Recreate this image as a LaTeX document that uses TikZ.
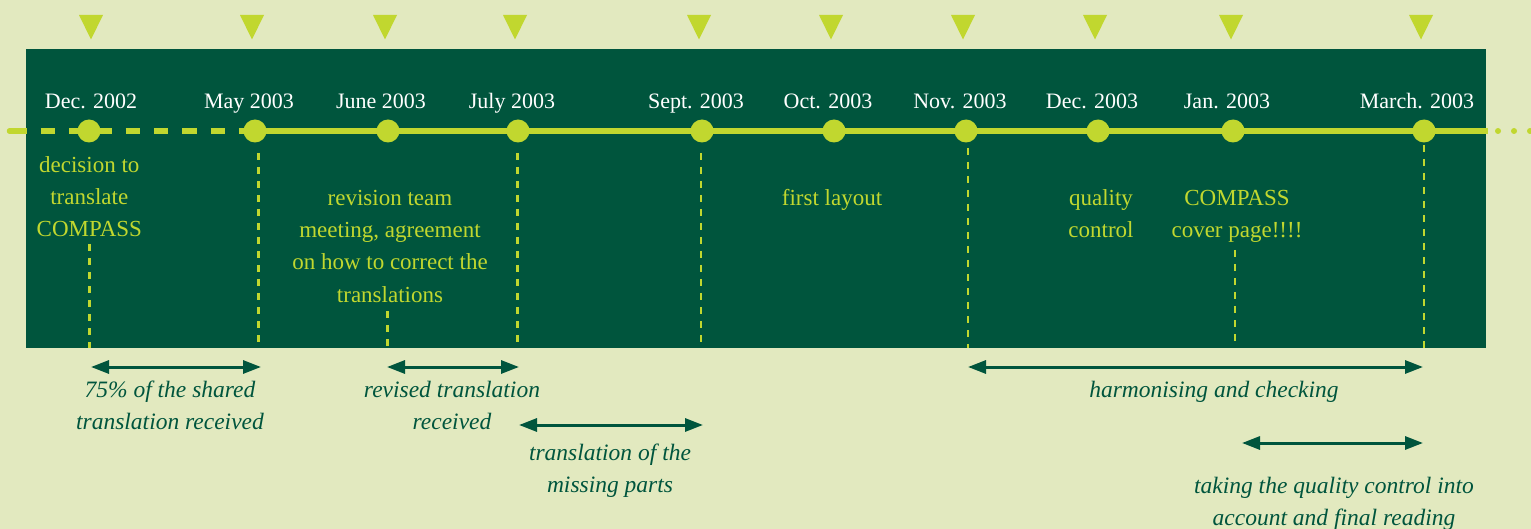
\documentclass[tikz,border=0pt]{standalone}
\usepackage{fontspec}
\setmainfont{Liberation Serif}
\usetikzlibrary{arrows.meta}
\definecolor{bgl}{HTML}{E2E9BF}
\definecolor{dkg}{HTML}{00553D}
\definecolor{lime}{HTML}{C1D72F}
\begin{document}
\begin{tikzpicture}[x=1pt,y=-1pt,
  datelbl/.style={text=white, font=\fontsize{22}{26}\selectfont, anchor=base, inner sep=0pt},
  evtext/.style={text=lime, font=\fontsize{23}{32.3}\selectfont, align=center, anchor=north, inner sep=0pt},
  spantext/.style={text=dkg, font=\itshape\fontsize{23.5}{32}\selectfont, align=center, anchor=north, inner sep=0pt},
  tlpoint/.style={circle, fill=lime, minimum size=23pt, inner sep=0pt},
  dropline/.style={draw=lime, line width=2.5pt, dash pattern=on 7pt off 7pt},
  spanarrow/.style={draw=dkg, line width=3pt, {Triangle[length=18pt,width=13pt]}-{Triangle[length=18pt,width=13pt]}},
  marker/.style={fill=lime}
]
\useasboundingbox (0,0) rectangle (1531,529);
\fill[bgl] (0,0) rectangle (1531,529);
\fill[dkg] (25.5,49) rectangle (1486,347.5);

% month markers
\foreach \x in {91,252,385,515,699,831,963,1095,1231,1421}
  \fill[marker] (\x-12,15) -- (\x+12,15) -- (\x,39.5) -- cycle;

% timeline
\draw[lime, line width=5.5pt, line cap=round] (9.5,131) -- (13,131);
\draw[lime, line width=5.5pt, dash pattern=on 14.3pt off 14pt] (12.4,131) -- (255,131);
\draw[lime, line width=5.5pt] (255,131) -- (1488,131);
\draw[lime, line width=6pt, line cap=round, dash pattern=on 0pt off 16pt] (1498,131) -- (1531,131);

% points
\node[tlpoint] (p1) at (89,131) {};
\node[tlpoint] (p2) at (255,131) {};
\node[tlpoint] (p3) at (388,131) {};
\node[tlpoint] (p4) at (518,131) {};
\node[tlpoint] (p5) at (702,131) {};
\node[tlpoint] (p6) at (834,131) {};
\node[tlpoint] (p7) at (966,131) {};
\node[tlpoint] (p8) at (1098,131) {};
\node[tlpoint] (p9) at (1233,131) {};
\node[tlpoint] (p10) at (1424,131) {};

% dates
\node[datelbl] (d1) at (91,108.5) {Dec. 2002};
\node[datelbl] (d2) at (249,108.5) {May 2003};
\node[datelbl] (d3) at (381,108.5) {June 2003};
\node[datelbl] (d4) at (512,108.5) {July 2003};
\node[datelbl] (d5) at (696,108.5) {Sept. 2003};
\node[datelbl] (d6) at (828,108.5) {Oct. 2003};
\node[datelbl] (d7) at (960,108.5) {Nov. 2003};
\node[datelbl] (d8) at (1092,108.5) {Dec. 2003};
\node[datelbl] (d9) at (1227,108.5) {Jan. 2003};
\node[datelbl] (d10) at (1417,108.5) {March. 2003};

% events
\node[evtext] (e1) at (89.3,149.4) {\strut decision to\\translate\\COMPASS};
\node[evtext] (e2) at (390,182.4) {\strut revision team\\meeting, agreement\\on how to correct the\\translations};
\node[evtext] (e3) at (832,182.4) {\strut first layout};
\node[evtext] (e4) at (1101,182.4) {\strut quality\\control};
\node[evtext] (e5) at (1237,182.4) {\strut COMPASS\\cover page!!!!};

% drop lines
\coordinate (b1) at (89.3,347.5);
\coordinate (b2) at (258.3,347.5);
\coordinate (b3) at (387.3,347.5);
\coordinate (b4) at (517.7,347.5);
\coordinate (b5) at (701,347.5);
\coordinate (b7) at (968,347.5);
\coordinate (b9) at (1235,347.5);
\coordinate (b10) at (1424,347.5);
\draw[dropline] (89.3,244) -- (b1);
\draw[dropline] (258.3,153) -- (b2);
\draw[dropline] (387.3,311) -- (b3);
\draw[dropline] (517.7,153) -- (b4);
\draw[dropline] (701,153) -- (b5);
\draw[dropline] (968,148) -- (b7);
\draw[dropline] (1235,250) -- (b9);
\draw[dropline] (1424,145) -- (b10);

% spans
\coordinate (s1a) at (91,367); \coordinate (s1b) at (261,367);
\coordinate (s2a) at (387,367); \coordinate (s2b) at (519,367);
\coordinate (s3a) at (519,425); \coordinate (s3b) at (703,425);
\coordinate (s4a) at (968,367); \coordinate (s4b) at (1423,367);
\coordinate (s5a) at (1242,443); \coordinate (s5b) at (1423,443);
\draw[spanarrow] (s1a) -- (s1b);
\draw[spanarrow] (s2a) -- (s2b);
\draw[spanarrow] (s3a) -- (s3b);
\draw[spanarrow] (s4a) -- (s4b);
\draw[spanarrow] (s5a) -- (s5b);

\node[spantext] (t1) at (170,374.6) {\strut 75\% of the shared\\translation received};
\node[spantext] (t2) at (452,374.6) {\strut revised translation\\received};
\node[spantext] (t3) at (610,437.6) {\strut translation of the\\missing parts};
\node[spantext] (t4) at (1214,374.6) {\strut harmonising and checking};
\node[spantext] (t5) at (1334,470.6) {\strut taking the quality control into\\account and final reading};
\end{tikzpicture}
\end{document}
